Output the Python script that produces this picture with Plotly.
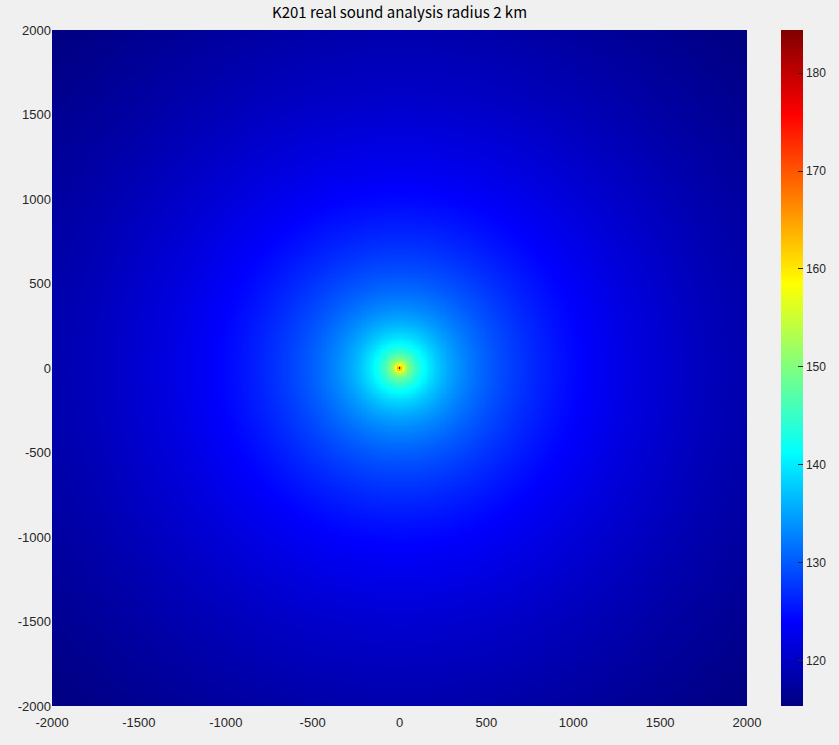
import numpy as np
import plotly.graph_objects as go

# ---- data ----
title_text = "K201 real sound analysis radius 2 km"
source_level_db = 184.4
spreading_coeff = 20.0           # spherical spreading, dB per decade
grid_step_m = 10
extent_m = 2000
axis_ticks = [-2000, -1500, -1000, -500, 0, 500, 1000, 1500, 2000]
axis_tick_labels = ["-2000", "-1500", "-1000", "-500", "0", "500", "1000", "1500", "2000"]
cbar_ticks = [120, 130, 140, 150, 160, 170, 180]

xs = np.arange(-extent_m, extent_m + grid_step_m, grid_step_m)
ys = np.arange(-extent_m, extent_m + grid_step_m, grid_step_m)
X, Y = np.meshgrid(xs, ys)
R = np.maximum(np.hypot(X, Y), 1.0)
level = source_level_db - spreading_coeff * np.log10(R)

jet = [
    [0.0, "rgb(0,0,128)"],
    [0.125, "rgb(0,0,255)"],
    [0.375, "rgb(0,255,255)"],
    [0.625, "rgb(255,255,0)"],
    [0.875, "rgb(255,0,0)"],
    [1.0, "rgb(128,0,0)"],
]

fig = go.Figure(go.Heatmap(
    x=xs, y=ys, z=level,
    colorscale=jet,
    zsmooth=False,
    colorbar=dict(
        x=(781 - 52) / 695, xanchor="left", xref="paper",
        y=0, yanchor="bottom", len=1, lenmode="fraction",
        xpad=0, ypad=0,
        thickness=22, thicknessmode="pixels",
        outlinewidth=0,
        ticks="inside", ticklen=5, tickcolor="#262626", tickwidth=1,
        tickvals=cbar_ticks,
        tickfont=dict(family="Liberation Sans, Arial", size=12, color="#262626"),
    ),
    hovertemplate="x=%{x}<br>y=%{y}<br>%{z:.1f} dB<extra></extra>",
))

fig.update_layout(
    width=839, height=745,
    margin=dict(l=52, r=92, t=30, b=39, autoexpand=False),
    paper_bgcolor="#f0f0f0",
    plot_bgcolor="#f0f0f0",
    title=dict(text=title_text, x=(52 + 747) / 2 / 839, xanchor="center",
               y=1 - 13 / 745, yanchor="middle",
               font=dict(family="Noto Sans CJK KR, Noto Sans", size=15, color="#000000")),
    xaxis=dict(range=[-extent_m, extent_m], tickvals=axis_ticks, ticktext=axis_tick_labels,
               showgrid=False, zeroline=False, showline=False,
               ticks="outside", ticklen=4, tickcolor="rgba(0,0,0,0)",
               tickfont=dict(family="Liberation Sans, Arial", size=13, color="#262626")),
    yaxis=dict(range=[-extent_m, extent_m], tickvals=axis_ticks, ticktext=axis_tick_labels,
               showgrid=False, zeroline=False, showline=False, ticks="",
               tickfont=dict(family="Liberation Sans, Arial", size=13, color="#262626")),
)

fig.write_html(
    "out.html",
    config={"displayModeBar": False},
    post_script="document.body.style.margin='0';document.body.style.background='#f0f0f0';",
)
